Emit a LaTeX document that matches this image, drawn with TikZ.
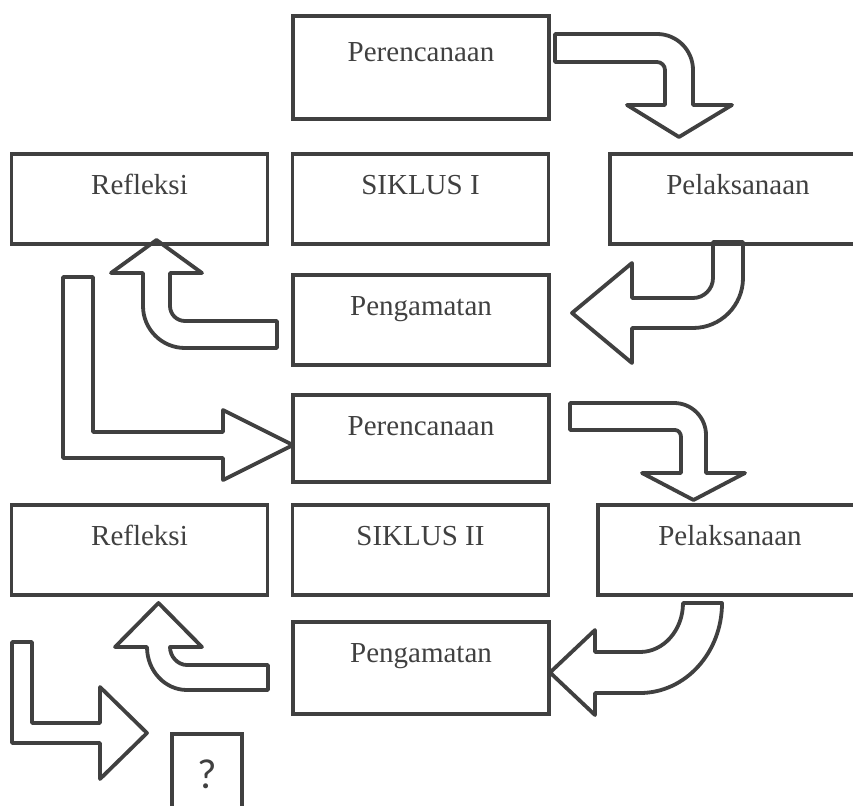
\documentclass[tikz,border=0pt]{standalone}
\usepackage{fontspec}
\setmainfont{Liberation Serif}
\newfontfamily\tanyafont{Carlito}
\definecolor{garis}{HTML}{404040}

\begin{document}
\begin{tikzpicture}[x=1pt,y=-1pt]
				\tikzstyle{every node}=[text=garis]
				\tikzstyle{kotak}=[draw=garis, line width=3.8pt, anchor=north, inner sep=0pt,
				minimum width=256pt, text height=41pt, text depth=49pt,
				font=\fontsize{29}{34}\selectfont]
				\tikzstyle{panah}=[draw=garis, line width=3.8pt, line join=round]
				\useasboundingbox (0,0) rectangle (853,805);

				\node[kotak, text height=46pt, text depth=57pt] (rencana1) at (421,14) {Perencanaan};
				\node[kotak] (refleksi1) at (139.5,152) {Refleksi};
				\node[kotak] (siklus1) at (420.5,152) {SIKLUS I};
				\node[kotak] (laksana1) at (738,152) {Pelaksanaan};
				\node[kotak] (amati1) at (421,273) {Pengamatan};
				\node[kotak, text depth=46pt] (rencana2) at (421,393) {Perencanaan};
				\node[kotak] (refleksi2) at (139.5,503) {Refleksi};
				\node[kotak] (siklus2) at (420.5,503) {SIKLUS II};
				\node[kotak, minimum width=264pt] (laksana2) at (730,503) {Pelaksanaan};
				\node[kotak, text depth=51pt] (amati2) at (421,620) {Pengamatan};
				\node[kotak, minimum width=70pt, text height=55pt, text depth=45pt,
				font=\tanyafont\fontsize{42}{46}\selectfont] (tanya) at (207,732) {?};

				\draw[panah] (555,34) -- (657,34) .. controls (676.9,34) and (693,50.1) .. (693,70)
				-- (693,105) -- (732,105) -- (679,137) -- (627,105) -- (665,105) -- (665,70)
				.. controls (665,65.6) and (661.4,62) .. (657,62) -- (555,62) -- cycle;
				\draw[panah] (713,242) -- (713,278) .. controls (713,289) and (704,298) .. (693,298)
				-- (632,298) -- (632,263) -- (572,313) -- (632,363) -- (632,328) -- (693,328)
				.. controls (720.6,328) and (743,305.6) .. (743,278) -- (743,242) -- cycle;
				\draw[panah] (277,321) -- (185,321) .. controls (176.7,321) and (170,314.3) .. (170,306)
				-- (170,273) -- (202,273) -- (156.5,240) -- (111,273) -- (143,273) -- (143,306)
				.. controls (143,329.2) and (161.8,348) .. (185,348) -- (277,348) -- cycle;
				\draw[panah] (63,277) -- (93,277) -- (93,432) -- (223,432) -- (223,410) -- (293,445)
				-- (223,480) -- (223,458) -- (63,458) -- cycle;
				\draw[panah] (570,403) -- (674,403) .. controls (691.7,403) and (706,417.3) .. (706,435)
				-- (706,473) -- (745,473) -- (693.5,500) -- (642,473) -- (681,473) -- (681,437)
				.. controls (681,433.1) and (678.3,430) .. (675,430) -- (570,430) -- cycle;
				\draw[panah] (683,603) .. controls (683,630) and (663.7,652) .. (640,652) -- (595,652)
				-- (595,630) -- (550,672.5) -- (595,715) -- (595,693) -- (640,693)
				.. controls (685.3,693) and (722,652.7) .. (722,603) -- cycle;
				\draw[panah] (268,665) -- (187,665) .. controls (177.6,665) and (170,656.4) .. (170,647)
				-- (202,647) -- (158.5,603) -- (115,647) -- (147,647)
				.. controls (147,670.7) and (164.9,690) .. (187,690) -- (268,690) -- cycle;
				\draw[panah] (12,642) -- (32,642) -- (32,723) -- (100,723) -- (100,687) -- (147,733)
				-- (100,779) -- (100,743) -- (12,743) -- cycle;
\end{tikzpicture}
\end{document}
